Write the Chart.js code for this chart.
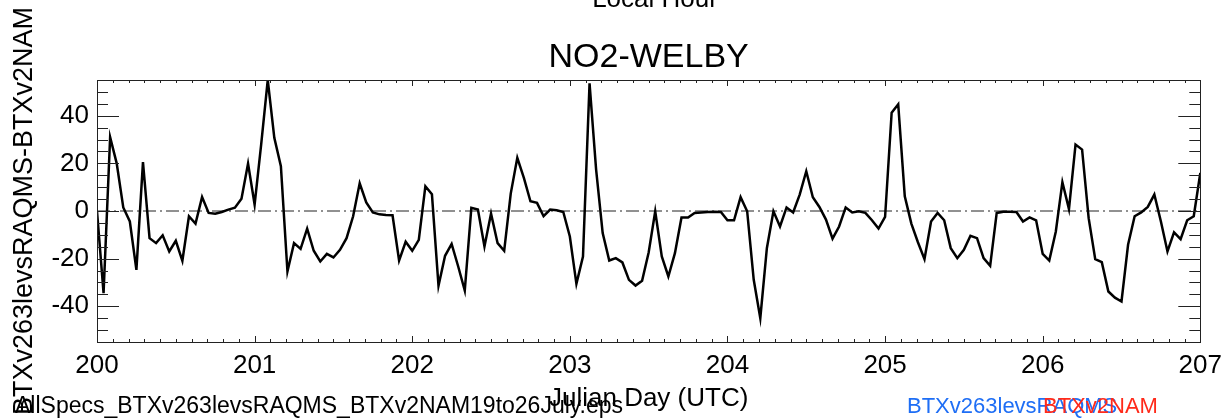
<!DOCTYPE html>
<html>
<head>
<meta charset="utf-8">
<script src="https://cdn.jsdelivr.net/npm/chart.js@4/dist/chart.umd.min.js"></script>
<style>
  html, body { margin: 0; padding: 0; background: #ffffff; }
  #wrap { width: 1230px; height: 418px; position: relative; }
</style>
</head>
<body>
<div id="wrap"><canvas id="c"></canvas></div>
<script>
// ---- data (hourly values, Julian Day 200 .. 207) ----
const startDay = 200;
const hoursPerDay = 24;
const diffValues = [
  0, -34.5, 31, 20, 1.5, -4.4, -24.7, 20.5, -11.4, -13.5, -10.2, -17, -12.5, -20.9, -2.2, -5.3,
  5.9, -0.8, -1.1, -0.4, 0.6, 1.4, 5.1, 19.9, 2.7, 28, 55, 30.7, 18.8, -25.4, -13.5, -15.9,
  -7.4, -16.7, -21.2, -18, -19.5, -16.3, -11.4, -2.2, 11.6, 3.6, -0.6, -1.4, -1.7, -1.8, -20.8, -12.9,
  -16.7, -12.1, 10.4, 7, -31.4, -18.8, -13.8, -23.3, -33.4, 1.3, 0.6, -14.9, -1.1, -13.5, -16.7, 7.3,
  22.3, 13.9, 4.1, 3.4, -2.2, 0.6, 0.3, -0.4, -10.7, -30.6, -19.1, 53.6, 17.4, -9.3, -20.8, -19.8,
  -21.6, -28.9, -31.3, -29.3, -17.4, -0.1, -19.1, -27.5, -17.7, -2.7, -2.7, -0.8, -0.6, -0.4, -0.3, -0.4,
  -3.9, -3.9, 5.8, -0.1, -28.9, -45, -15.6, -0.1, -6.5, 1.5, -0.6, 6.9, 16.7, 5.8, 1.7, -3.6,
  -11.6, -6.5, 1.5, -0.6, -0.1, -0.8, -3.9, -7.4, -2.5, 41.3, 44.8, 6.2, -5.3, -13.1, -20.2, -4.4,
  -0.8, -3.9, -15.6, -19.8, -16.3, -10.4, -11.4, -19.8, -23, -0.8, -0.3, -0.3, -0.4, -4.4, -2.7, -3.9,
  -18, -20.8, -8.6, 12.1, 0.8, 27.9, 25.8, -3, -20.2, -21.5, -33.8, -36.4, -38, -14.2, -2.2, -0.6,
  1.7, 6.9, -4.4, -17, -9, -11.8, -3.9, -2.2, 16
];
const xTickLabels = [200, 201, 202, 203, 204, 205, 206, 207];
const yTickLabels = [-40, -20, 0, 20, 40];
const zeroLine = [0, 0];
const xRange = [200, 207];
const yRange = [-55, 55];

const titleText = 'NO2-WELBY';
const topText = 'Local Hour';
const xTitle = 'Julian Day (UTC)';
const yTitle = 'BTXv263levsRAQMS-BTXv2NAM';
const fileText = 'AllSpecs_BTXv263levsRAQMS_BTXv2NAM19to26July.eps';
const legendNames = ['BTXv263levsRAQMS', 'BTXv2NAM'];
const legendColors = ['#1e6ef5', '#ff2a1a'];

const FONT = '"Liberation Sans", Arial, Helvetica, sans-serif';

const lineData = diffValues.map((v, i) => ({ x: startDay + i / hoursPerDay, y: v }));
const zeroData = zeroLine.map((v, i) => ({ x: xRange[i], y: v }));

// ---- plugin: IDL-style inward ticks, frame, and texts ----
const idlDecor = {
  id: 'idlDecor',
  afterDraw(chart) {
    const ctx = chart.ctx;
    const a = chart.chartArea;
    const xs = chart.scales.x, ys = chart.scales.y;
    ctx.save();
    ctx.strokeStyle = '#222';
    ctx.lineWidth = 1;
    // frame
    ctx.strokeRect(Math.round(a.left) + 0.5, Math.round(a.top) + 0.5,
                   Math.round(a.right - a.left), Math.round(a.bottom - a.top));
    ctx.beginPath();
    // y ticks (minor every 5, major at labels)
    for (let v = yRange[0] + 5; v < yRange[1]; v += 5) {
      const py = Math.round(ys.getPixelForValue(v)) + 0.5;
      const major = yTickLabels.includes(v);
      const len = major ? 22 : 11;
      ctx.moveTo(a.left, py); ctx.lineTo(a.left + len, py);
      ctx.moveTo(a.right, py); ctx.lineTo(a.right - len, py);
    }
    // x ticks (minor every 0.1 day, major each day)
    for (let k = 1; k < (xRange[1] - xRange[0]) * 10; k++) {
      const t = xRange[0] + k / 10;
      const px = Math.round(xs.getPixelForValue(t)) + 0.5;
      const len = (k % 10 === 0) ? 6 : 3;
      ctx.moveTo(px, a.bottom); ctx.lineTo(px, a.bottom - len);
      ctx.moveTo(px, a.top); ctx.lineTo(px, a.top + len);
    }
    ctx.stroke();

    // texts
    ctx.fillStyle = '#000';
    ctx.textAlign = 'center';
    ctx.textBaseline = 'alphabetic';
    const cx = (a.left + a.right) / 2;
    ctx.font = '26px ' + FONT;
    ctx.fillText(topText, 655, 7);
    ctx.font = '34px ' + FONT;
    ctx.fillText(titleText, cx, 67);
    ctx.font = '26px ' + FONT;
    ctx.fillText(xTitle, cx, 406);

    ctx.textAlign = 'left';
    ctx.font = '23px ' + FONT;
    ctx.fillText(fileText, 15, 413);

    ctx.font = '22px ' + FONT;
    ctx.fillStyle = legendColors[0];
    ctx.fillText(legendNames[0], 907, 413);
    ctx.fillStyle = legendColors[1];
    ctx.fillText(legendNames[1], 1043, 413);

    // rotated y title
    ctx.save();
    ctx.translate(32, (a.top + a.bottom) / 2);
    ctx.rotate(-Math.PI / 2);
    ctx.textAlign = 'center';
    ctx.fillStyle = '#000';
    ctx.font = '27px ' + FONT;
    ctx.fillText(yTitle, 0, 0);
    ctx.restore();

    ctx.restore();
  }
};

new Chart(document.getElementById('c'), {
  type: 'line',
  data: {
    datasets: [
      {
        label: 'diff',
        data: lineData,
        borderColor: '#000',
        borderWidth: 2.5,
        pointRadius: 0,
        tension: 0,
        fill: false
      },
      {
        label: 'zero',
        data: zeroData,
        borderColor: '#222',
        borderWidth: 1,
        borderDash: [13, 4, 2, 4],
        pointRadius: 0,
        fill: false
      }
    ]
  },
  options: {
    responsive: true,
    maintainAspectRatio: false,
    animation: false,
    layout: { padding: { top: 80, right: 29, left: 0, bottom: 0 } },
    plugins: { legend: { display: false }, title: { display: false }, tooltip: { enabled: false } },
    scales: {
      x: {
        type: 'linear',
        min: xRange[0], max: xRange[1],
        grid: { display: false, drawTicks: false },
        border: { display: false },
        afterFit(s) { s.height = 76; },
        afterBuildTicks(s) { s.ticks = xTickLabels.map(v => ({ value: v })); },
        ticks: {
          autoSkip: false, maxRotation: 0, padding: 8,
          color: '#000', font: { family: FONT, size: 26 },
          callback: v => String(v)
        }
      },
      y: {
        type: 'linear',
        min: yRange[0], max: yRange[1],
        grid: { display: false, drawTicks: false },
        border: { display: false },
        afterFit(s) { s.width = 97; },
        afterBuildTicks(s) { s.ticks = yTickLabels.map(v => ({ value: v })); },
        ticks: {
          autoSkip: false, padding: 8,
          color: '#000', font: { family: FONT, size: 26 },
          callback: v => String(v)
        }
      }
    }
  },
  plugins: [idlDecor]
});
</script>
</body>
</html>
